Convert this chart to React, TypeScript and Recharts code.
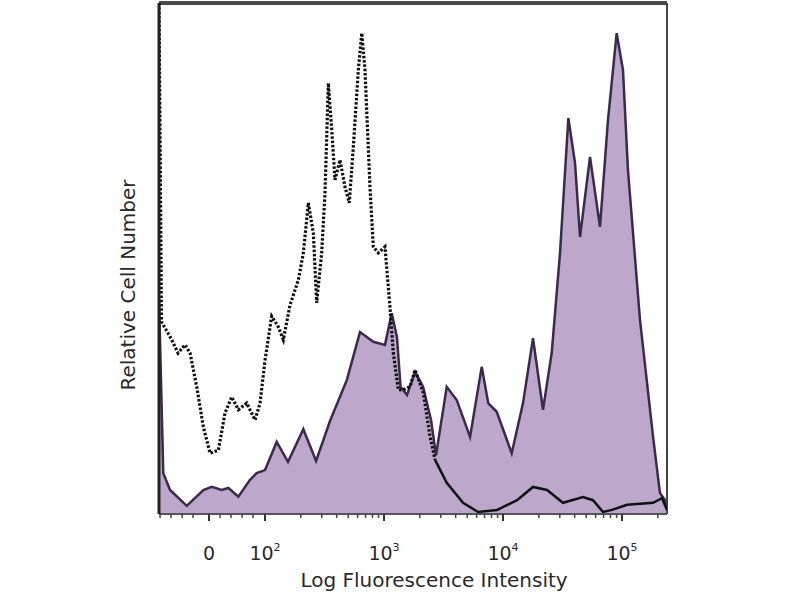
import React from 'react';
import { ComposedChart, Area, Line, XAxis, YAxis, ReferenceLine } from 'recharts';

// x values are in log-decade units (2 = 10^2, 3 = 10^3 ...), y = relative cell number (% of max)
const stainedX = [1.109, 1.145, 1.202, 1.342, 1.482, 1.552, 1.636, 1.692, 1.776, 1.874, 1.930, 2.0, 2.098, 2.193, 2.322, 2.429, 2.546, 2.687, 2.798, 2.910, 3.008, 3.065, 3.109, 3.139, 3.193, 3.261, 3.328, 3.395, 3.437, 3.527, 3.611, 3.723, 3.821, 3.876, 3.947, 4.073, 4.168, 4.252, 4.336, 4.409, 4.479, 4.549, 4.605, 4.647, 4.731, 4.815, 4.882, 4.955, 5.008, 5.050, 5.151, 5.261, 5.319, 5.361, 5.378];
const stainedY = [41.9, 8.0, 4.7, 1.6, 4.7, 5.3, 4.7, 5.1, 3.4, 6.7, 8.0, 8.6, 14.1, 10.2, 16.6, 10.4, 18.2, 26.2, 35.6, 33.7, 33.1, 39.3, 34.6, 24.9, 23.3, 27.8, 24.9, 18.4, 11.5, 24.9, 22.3, 15.1, 28.8, 21.7, 20.0, 11.9, 21.7, 34.4, 20.4, 31.5, 51.1, 77.5, 68.7, 54.2, 69.9, 56.2, 77.1, 94.1, 86.9, 67.3, 38.0, 15.1, 4.1, 2.7, 1.8];

const isotypeDottedX = [1.109, 1.130, 1.160, 1.216, 1.269, 1.328, 1.370, 1.426, 1.482, 1.538, 1.608, 1.664, 1.720, 1.776, 1.846, 1.916, 1.958, 2.0, 2.056, 2.112, 2.154, 2.210, 2.280, 2.322, 2.364, 2.406, 2.434, 2.476, 2.504, 2.532, 2.561, 2.588, 2.630, 2.672, 2.708, 2.742, 2.784, 2.813, 2.840, 2.882, 2.910, 2.952, 3.008, 3.050, 3.078, 3.120, 3.162, 3.218, 3.261, 3.330, 3.387, 3.429];
const isotypeDottedY = [100, 37.6, 36.4, 34.1, 31.5, 33.1, 31.5, 24.9, 17.0, 11.9, 12.5, 19.8, 22.9, 20.4, 21.7, 18.4, 21.7, 30.1, 38.7, 36.6, 34.1, 40.9, 45.8, 51.1, 60.9, 55.0, 41.3, 51.1, 62.8, 84.3, 75.1, 65.4, 69.3, 64.0, 60.9, 71.8, 86.9, 94.1, 86.9, 64.0, 52.3, 51.1, 52.3, 40.5, 31.5, 24.3, 24.3, 24.9, 28.2, 23.7, 15.1, 10.6];

const isotypeSolidX = [3.429, 3.527, 3.664, 3.790, 3.950, 4.118, 4.252, 4.370, 4.504, 4.672, 4.756, 4.840, 4.916, 5.042, 5.261, 5.336, 5.378];
const isotypeSolidY = [10.6, 6.1, 2.2, 0.4, 0.8, 2.7, 5.3, 4.7, 2.2, 3.3, 2.7, 0.4, 0.8, 1.8, 2.2, 3.1, 0.8];

const xMin = 1.109;
const xMax = 5.378;

const majorTicks = [1.529, 2, 3, 4, 5];
const majorBase = ['0', '10', '10', '10', '10'];
const majorExp = ['', '2', '3', '4', '5'];
const linearMinorTicks = [1.118, 1.21, 1.303, 1.395, 1.622, 1.714, 1.807, 1.899];
const logMultipliers = [2, 3, 4, 5, 6, 7, 8, 9];
const logDecades = [2, 3, 4];

const logMinorTicks: number[] = [];
logDecades.forEach((d) => logMultipliers.forEach((m) => logMinorTicks.push(d + Math.log10(m))));
logMinorTicks.push(5 + Math.log10(2));

const allTicks = [...linearMinorTicks, ...majorTicks, ...logMinorTicks].sort((a, b) => a - b);

const stainedData = stainedX.map((x, i) => ({ x, y: stainedY[i] }));
const dottedData = isotypeDottedX.map((x, i) => ({ x, y: isotypeDottedY[i] }));
const solidData = isotypeSolidX.map((x, i) => ({ x, y: isotypeSolidY[i] }));

const FONT = '"DejaVu Sans", sans-serif';

const AxisTick = (props: any) => {
  const { x, y, payload } = props;
  const idx = majorTicks.indexOf(payload.value);
  if (idx < 0) {
    return <line x1={x} x2={x} y1={y} y2={y + 4} stroke="#444" strokeWidth={1.5} />;
  }
  return (
    <g>
      <line x1={x} x2={x} y1={y} y2={y + 7} stroke="#333" strokeWidth={2} />
      <text x={x} y={y + 46} textAnchor="middle" fontFamily={FONT} fontSize={19} fill="#2a2a2a">
        {majorBase[idx]}
        {majorExp[idx] ? (
          <tspan dy={-9} fontSize={11}>
            {majorExp[idx]}
          </tspan>
        ) : null}
      </text>
    </g>
  );
};

const XTitle = (props: any) => {
  const vb = props.viewBox;
  return (
    <text x={vb.x + vb.width / 2 + 21} y={vb.y + 73} textAnchor="middle" fontFamily={FONT} fontSize={20} fill="#2a2a2a">
      Log Fluorescence Intensity
    </text>
  );
};

const YTitle = (props: any) => {
  const vb = props.viewBox;
  const cx = vb.x + 26;
  const cy = vb.y + 282;
  return (
    <text x={cx} y={cy} textAnchor="middle" transform={`rotate(-90 ${cx} ${cy})`} fontFamily={FONT} fontSize={20} fill="#2a2a2a">
      Relative Cell Number
    </text>
  );
};

export default function App() {
  return (
    <div style={{ position: 'absolute', left: 0, top: 0, width: 800, height: 600, background: '#fff' }}>
      <ComposedChart width={800} height={600} margin={{ top: 3, right: 133, bottom: 26, left: 109 }}>
        <XAxis
          type="number"
          dataKey="x"
          domain={[xMin, xMax]}
          allowDataOverflow
          ticks={allTicks}
          interval={0}
          tick={<AxisTick />}
          tickLine={false}
          tickSize={0}
          tickMargin={0}
          height={60}
          axisLine={{ stroke: '#555', strokeWidth: 2 }}
          label={<XTitle />}
        />
        <YAxis
          type="number"
          domain={[0, 100]}
          allowDataOverflow
          tick={false}
          tickLine={false}
          width={50}
          axisLine={{ stroke: '#222', strokeWidth: 3 }}
          label={<YTitle />}
        />
        <ReferenceLine y={100} stroke="#4a4a4a" strokeWidth={4} />
        <ReferenceLine x={xMax} stroke="#444" strokeWidth={2} />
        <Area
          data={stainedData}
          dataKey="y"
          type="linear"
          fill="#bda8cc"
          fillOpacity={1}
          stroke="#3b2a4d"
          strokeWidth={2.5}
          isAnimationActive={false}
        />
        <Line
          data={dottedData}
          dataKey="y"
          type="linear"
          stroke="#111"
          strokeWidth={3.2}
          strokeDasharray="2.5 1.8"
          dot={false}
          isAnimationActive={false}
        />
        <Line
          data={solidData}
          dataKey="y"
          type="linear"
          stroke="#111"
          strokeWidth={2.5}
          dot={false}
          isAnimationActive={false}
        />
      </ComposedChart>
    </div>
  );
}
